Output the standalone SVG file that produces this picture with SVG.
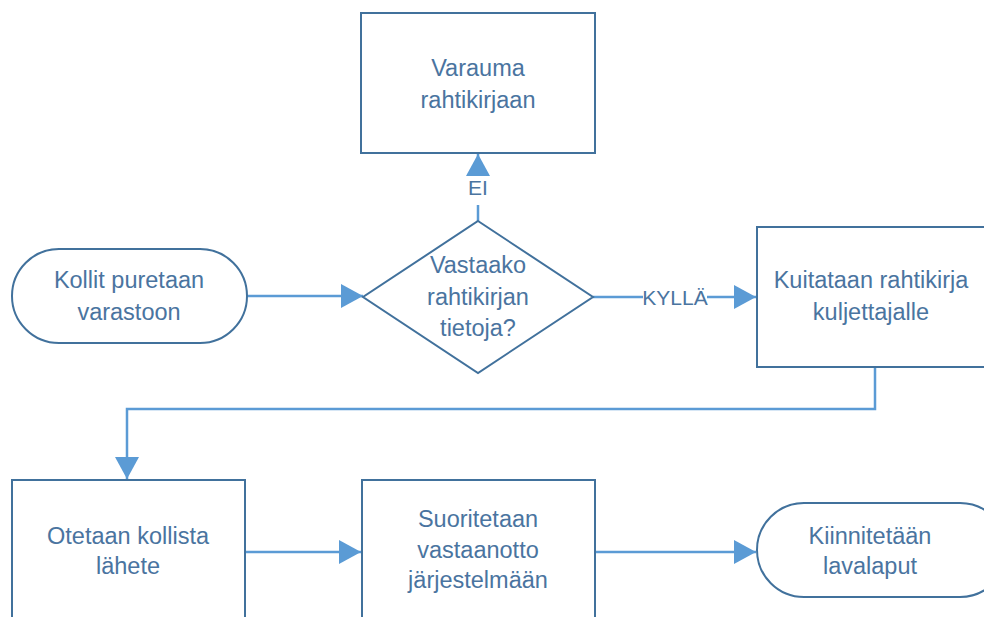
<svg xmlns="http://www.w3.org/2000/svg" width="984" height="617" viewBox="0 0 984 617">
  <defs>
    <style>
      .shape { fill: #ffffff; stroke: #41719c; stroke-width: 2; }
      .label { font-family: "Liberation Sans", Arial, sans-serif; font-size: 23.5px; fill: #4a74a0; text-anchor: middle; }
      .edge { fill: none; stroke: #5b9bd5; stroke-width: 2.5; }
      .edge-label { font-family: "Liberation Sans", Arial, sans-serif; font-size: 21px; fill: #4a74a0; text-anchor: middle; }
    </style>
    <marker id="arrowBig" viewBox="0 0 22 24" refX="22" refY="12" markerWidth="22" markerHeight="24" markerUnits="userSpaceOnUse" orient="auto">
      <path d="M0,0 L22,12 L0,24 Z" fill="#5b9bd5"/>
    </marker>
  </defs>

  <rect width="984" height="617" fill="#ffffff"/>

  <!-- connectors -->
  <g id="connectors">
    <path class="edge" d="M247,296 H363" marker-end="url(#arrowBig)"/>
    <path class="edge" d="M478,221 V205"/>
    <path class="edge" d="M478,175 V154" marker-end="url(#arrowBig)"/>
    <text class="edge-label" x="478" y="195">EI</text>
    <path class="edge" d="M593,297 H643"/>
    <path class="edge" d="M707,297 H756" marker-end="url(#arrowBig)"/>
    <text class="edge-label" x="675" y="305">KYLLÄ</text>
    <path class="edge" d="M875,367 V409 H127 V479" marker-end="url(#arrowBig)"/>
    <path class="edge" d="M245,552 H361" marker-end="url(#arrowBig)"/>
    <path class="edge" d="M595,552 H756" marker-end="url(#arrowBig)"/>
  </g>

  <!-- nodes -->
  <g id="node-varauma">
    <rect class="shape" x="361" y="13" width="234" height="140"/>
    <text class="label" x="478" y="76">Varauma</text>
    <text class="label" x="478" y="108">rahtikirjaan</text>
  </g>

  <g id="node-kollit">
    <rect class="shape" x="12" y="249" width="235" height="94" rx="47" ry="47"/>
    <text class="label" x="129" y="288">Kollit puretaan</text>
    <text class="label" x="129" y="320">varastoon</text>
  </g>

  <g id="node-vastaako">
    <polygon class="shape" points="478,221 593,297 478,373 363,297"/>
    <text class="label" x="478" y="273">Vastaako</text>
    <text class="label" x="478" y="305">rahtikirjan</text>
    <text class="label" x="478" y="336">tietoja?</text>
  </g>

  <g id="node-kuitataan">
    <rect class="shape" x="757" y="227" width="240" height="140"/>
    <text class="label" x="871" y="288">Kuitataan rahtikirja</text>
    <text class="label" x="871" y="320">kuljettajalle</text>
  </g>

  <g id="node-otetaan">
    <rect class="shape" x="12" y="480" width="233" height="160"/>
    <text class="label" x="128" y="544">Otetaan kollista</text>
    <text class="label" x="128" y="574">lähete</text>
  </g>

  <g id="node-suoritetaan">
    <rect class="shape" x="362" y="480" width="233" height="160"/>
    <text class="label" x="478" y="527">Suoritetaan</text>
    <text class="label" x="478" y="558">vastaanotto</text>
    <text class="label" x="478" y="588">järjestelmään</text>
  </g>

  <g id="node-kiinnitetaan">
    <rect class="shape" x="757" y="503" width="250" height="94" rx="47" ry="47"/>
    <text class="label" x="870" y="544">Kiinnitetään</text>
    <text class="label" x="870" y="574">lavalaput</text>
  </g>
</svg>
